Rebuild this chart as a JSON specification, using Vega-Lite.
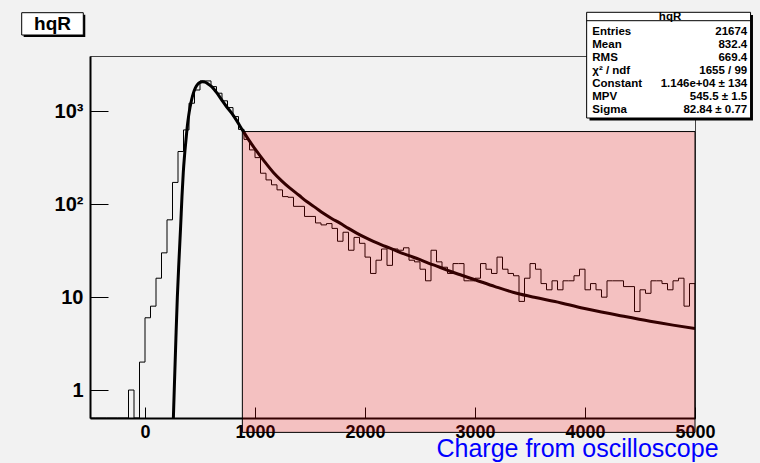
{
  "$schema": "https://vega.github.io/schema/vega-lite/v6.json",
  "width": 605,
  "height": 362,
  "autosize": "none",
  "padding": {"left": 90, "top": 56, "right": 65, "bottom": 45},
  "background": "#f2f2f2",
  "config": {
    "view": {"stroke": "#444444", "strokeWidth": 1, "fill": "#f2f2f2"},
    "font": "Liberation Sans"
  },
  "datasets": {
    "hist": [
      {"q": -500, "n": 0}, {"q": -450, "n": 0}, {"q": -400, "n": 0}, {"q": -350, "n": 0},
      {"q": -300, "n": 0}, {"q": -250, "n": 0}, {"q": -200, "n": 0}, {"q": -150, "n": 1},
      {"q": -100, "n": 0}, {"q": -50, "n": 2}, {"q": 0, "n": 6}, {"q": 50, "n": 8},
      {"q": 100, "n": 16}, {"q": 150, "n": 30}, {"q": 200, "n": 68}, {"q": 250, "n": 172},
      {"q": 300, "n": 370}, {"q": 350, "n": 632}, {"q": 400, "n": 1225}, {"q": 450, "n": 1700},
      {"q": 500, "n": 2130}, {"q": 550, "n": 2130}, {"q": 600, "n": 1850}, {"q": 650, "n": 1570},
      {"q": 700, "n": 1300}, {"q": 750, "n": 1100}, {"q": 800, "n": 880}, {"q": 850, "n": 640},
      {"q": 900, "n": 500}, {"q": 950, "n": 385}, {"q": 1000, "n": 318}, {"q": 1050, "n": 216},
      {"q": 1100, "n": 183}, {"q": 1150, "n": 162}, {"q": 1200, "n": 143}, {"q": 1250, "n": 121},
      {"q": 1300, "n": 119}, {"q": 1350, "n": 95}, {"q": 1400, "n": 95}, {"q": 1450, "n": 74},
      {"q": 1500, "n": 74}, {"q": 1550, "n": 63}, {"q": 1600, "n": 60}, {"q": 1650, "n": 62},
      {"q": 1700, "n": 55}, {"q": 1750, "n": 40}, {"q": 1800, "n": 50}, {"q": 1850, "n": 32},
      {"q": 1900, "n": 44}, {"q": 1950, "n": 38}, {"q": 2000, "n": 27}, {"q": 2050, "n": 18},
      {"q": 2100, "n": 25}, {"q": 2150, "n": 33}, {"q": 2200, "n": 22}, {"q": 2250, "n": 33},
      {"q": 2300, "n": 32}, {"q": 2350, "n": 34}, {"q": 2400, "n": 25}, {"q": 2450, "n": 24},
      {"q": 2500, "n": 20}, {"q": 2550, "n": 15}, {"q": 2600, "n": 32}, {"q": 2650, "n": 24},
      {"q": 2700, "n": 21}, {"q": 2750, "n": 18}, {"q": 2800, "n": 23}, {"q": 2850, "n": 23},
      {"q": 2900, "n": 15}, {"q": 2950, "n": 15}, {"q": 3000, "n": 16}, {"q": 3050, "n": 23},
      {"q": 3100, "n": 20}, {"q": 3150, "n": 18}, {"q": 3200, "n": 27}, {"q": 3250, "n": 20},
      {"q": 3300, "n": 18}, {"q": 3350, "n": 17}, {"q": 3400, "n": 9}, {"q": 3450, "n": 16},
      {"q": 3500, "n": 23}, {"q": 3550, "n": 20}, {"q": 3600, "n": 14}, {"q": 3650, "n": 12},
      {"q": 3700, "n": 15}, {"q": 3750, "n": 12}, {"q": 3800, "n": 15}, {"q": 3850, "n": 15},
      {"q": 3900, "n": 17}, {"q": 3950, "n": 20}, {"q": 4000, "n": 12}, {"q": 4050, "n": 14},
      {"q": 4100, "n": 12}, {"q": 4150, "n": 10}, {"q": 4200, "n": 15}, {"q": 4250, "n": 15},
      {"q": 4300, "n": 15}, {"q": 4350, "n": 13}, {"q": 4400, "n": 13}, {"q": 4450, "n": 7},
      {"q": 4500, "n": 12}, {"q": 4550, "n": 11}, {"q": 4600, "n": 15}, {"q": 4650, "n": 15},
      {"q": 4700, "n": 14}, {"q": 4750, "n": 12}, {"q": 4800, "n": 15}, {"q": 4850, "n": 16},
      {"q": 4900, "n": 8}, {"q": 4950, "n": 14}, {"q": 5000, "n": 0}
    ],
    "fit": [
      {"q": 258, "f": 0.5}, {"q": 267, "f": 1.1}, {"q": 281, "f": 3.6}, {"q": 294, "f": 10},
      {"q": 309, "f": 25}, {"q": 324, "f": 58}, {"q": 336, "f": 120}, {"q": 348, "f": 220},
      {"q": 360, "f": 340}, {"q": 373, "f": 500}, {"q": 385, "f": 700}, {"q": 397, "f": 900},
      {"q": 409, "f": 1100}, {"q": 424, "f": 1340}, {"q": 439, "f": 1565}, {"q": 457, "f": 1780},
      {"q": 476, "f": 1945}, {"q": 500, "f": 2060}, {"q": 524, "f": 2090}, {"q": 545, "f": 2070},
      {"q": 570, "f": 1990}, {"q": 606, "f": 1849}, {"q": 650, "f": 1600}, {"q": 697, "f": 1330},
      {"q": 740, "f": 1130}, {"q": 788, "f": 957}, {"q": 835, "f": 790}, {"q": 885, "f": 632},
      {"q": 940, "f": 500}, {"q": 1000, "f": 395}, {"q": 1080, "f": 295}, {"q": 1167, "f": 220},
      {"q": 1240, "f": 180}, {"q": 1318, "f": 149}, {"q": 1400, "f": 125}, {"q": 1470, "f": 107},
      {"q": 1550, "f": 92}, {"q": 1621, "f": 80}, {"q": 1700, "f": 70}, {"q": 1773, "f": 62.7},
      {"q": 1850, "f": 55}, {"q": 1924, "f": 49}, {"q": 2000, "f": 44}, {"q": 2076, "f": 39.8},
      {"q": 2150, "f": 36.5}, {"q": 2227, "f": 33.8}, {"q": 2300, "f": 31}, {"q": 2400, "f": 28},
      {"q": 2500, "f": 25.3}, {"q": 2576, "f": 23.3}, {"q": 2680, "f": 21}, {"q": 2773, "f": 19},
      {"q": 2879, "f": 17.2}, {"q": 3000, "f": 15.4}, {"q": 3182, "f": 13}, {"q": 3379, "f": 11},
      {"q": 3550, "f": 9.9}, {"q": 3727, "f": 9.0}, {"q": 3985, "f": 7.6}, {"q": 4300, "f": 6.4},
      {"q": 4591, "f": 5.5}, {"q": 4800, "f": 5.0}, {"q": 5000, "f": 4.6}
    ],
    "region": [{"lo": 885, "hi": 5000, "ylo": 0.35, "yhi": 607}],
    "stats": [
      {"k": "Entries", "v": "21674"},
      {"k": "Mean", "v": "832.4"},
      {"k": "RMS", "v": "669.4"},
      {"k": "χ² / ndf", "v": "1655 / 99"},
      {"k": "Constant", "v": "1.146e+04 ± 134"},
      {"k": "MPV", "v": "545.5 ± 1.5"},
      {"k": "Sigma", "v": "82.84 ± 0.77"}
    ]
  },
  "layer": [
    {
      "layer": [
        {
          "data": {"name": "hist"},
          "mark": {"type": "line", "interpolate": "step-after", "color": "#000000", "strokeWidth": 1, "clip": true},
          "encoding": {
            "x": {
              "field": "q", "type": "quantitative",
              "scale": {"domain": [-500, 5000], "nice": false, "zero": false},
              "axis": {
                "orient": "bottom",
                "values": [0, 1000, 2000, 3000, 4000, 5000],
                "format": "d",
                "tickSize": -11, "tickColor": "#000000", "tickWidth": 1,
                "domain": true, "domainColor": "#000000", "domainWidth": 2,
                "grid": false,
                "labelFont": "Liberation Sans", "labelFontWeight": "bold", "labelFontSize": 18,
                "labelColor": "#000000", "labelPadding": 16, "labelFlush": false, "labelOverlap": false,
                "title": "Charge from oscilloscope",
                "titleFont": "Liberation Sans", "titleFontSize": 25, "titleFontWeight": "normal",
                "titleColor": "#0000ff", "titleAnchor": "middle", "titleAlign": "center",
                "titleBaseline": "alphabetic", "titleX": 487, "titleY": 38
              }
            },
            "y": {
              "field": "n", "type": "quantitative",
              "scale": {"type": "log", "domain": [0.5, 3950], "nice": false, "clamp": true},
              "axis": {
                "orient": "left",
                "values": [1, 10, 100, 1000],
                "tickSize": -18, "tickColor": "#000000", "tickWidth": 1,
                "domain": true, "domainColor": "#000000", "domainWidth": 2,
                "grid": false,
                "labelExpr": "datum.value >= 1000 ? '10³' : datum.value >= 100 ? '10²' : datum.value >= 10 ? '10' : '1'",
                "labelFont": "Liberation Sans", "labelFontWeight": "bold", "labelFontSize": 20,
                "labelColor": "#000000", "labelPadding": 25, "labelOverlap": false,
                "title": null
              }
            }
          }
        },
        {
          "layer": [
            {
              "data": {"name": "fit"},
              "mark": {"type": "line", "interpolate": "monotone", "color": "#000000", "strokeWidth": 3, "clip": true},
              "encoding": {
                "x": {
                  "field": "q", "type": "quantitative",
                  "axis": {
                    "orient": "bottom",
                    "values": [-400, -200, 200, 400, 600, 800, 1200, 1400, 1600, 1800, 2200, 2400, 2600, 2800, 3200, 3400, 3600, 3800, 4200, 4400, 4600, 4800],
                    "tickSize": -5.5, "tickColor": "#000000", "tickWidth": 1,
                    "domain": false, "labels": false, "grid": false, "title": null
                  }
                },
                "y": {
                  "field": "f", "type": "quantitative",
                  "scale": {"type": "log", "domain": [0.5, 3950], "nice": false},
                  "axis": {
                    "orient": "left",
                    "values": [0.6, 0.7, 0.8, 0.9, 2, 3, 4, 5, 6, 7, 8, 9, 20, 30, 40, 50, 60, 70, 80, 90, 200, 300, 400, 500, 600, 700, 800, 900, 2000, 3000],
                    "tickSize": -9, "tickColor": "#000000", "tickWidth": 1,
                    "domain": false, "labels": false, "grid": false, "title": null
                  }
                }
              }
            },
            {
              "data": {"name": "region"},
              "mark": {"type": "rect", "fill": "#ff0000", "fillOpacity": 0.2, "stroke": "#000000", "strokeWidth": 1, "clip": false},
              "encoding": {
                "x": {"field": "lo", "type": "quantitative", "axis": null},
                "x2": {"field": "hi"},
                "y": {"field": "yhi", "type": "quantitative", "axis": null},
                "y2": {"field": "ylo"}
              }
            },
            {
              "data": {"values": [{}]},
              "mark": {"type": "rect", "fill": "#000000", "clip": false},
              "encoding": {
                "x": {"datum": -1103, "axis": null}, "x2": {"datum": -543},
                "y": {"datum": 11000, "axis": null}, "y2": {"datum": 6327}
              }
            },
            {
              "data": {"values": [{}]},
              "mark": {"type": "rect", "fill": "#ffffff", "stroke": "#000000", "strokeWidth": 1, "clip": false},
              "encoding": {
                "x": {"datum": -1121, "axis": null}, "x2": {"datum": -561},
                "y": {"datum": 11556, "axis": null}, "y2": {"datum": 6648}
              }
            },
            {
              "data": {"values": [{}]},
              "mark": {"type": "text", "text": "hqR", "font": "Liberation Sans", "fontWeight": "bold", "fontSize": 19, "align": "center", "baseline": "alphabetic", "color": "#000000", "clip": false},
              "encoding": {
                "x": {"datum": -841, "axis": null},
                "y": {"datum": 7523, "axis": null}
              }
            },
            {
              "data": {"values": [{}]},
              "mark": {"type": "rect", "fill": "#000000", "clip": false},
              "encoding": {
                "x": {"datum": 4041, "axis": null}, "x2": {"datum": 5527},
                "y": {"datum": 10914, "axis": null}, "y2": {"datum": 798}
              }
            },
            {
              "data": {"values": [{}]},
              "mark": {"type": "rect", "fill": "#ffffff", "stroke": "#000000", "strokeWidth": 1, "clip": false},
              "encoding": {
                "x": {"datum": 4015, "axis": null}, "x2": {"datum": 5505},
                "y": {"datum": 11672, "axis": null}, "y2": {"datum": 849}
              }
            },
            {
              "data": {"values": [{}]},
              "mark": {"type": "rule", "color": "#000000", "strokeWidth": 1, "clip": false},
              "encoding": {
                "x": {"datum": 4015, "axis": null}, "x2": {"datum": 5505},
                "y": {"datum": 9478, "axis": null}
              }
            },
            {
              "data": {"values": [{}]},
              "mark": {"type": "text", "text": "hqR", "font": "Liberation Sans", "fontWeight": "bold", "fontSize": 11.5, "align": "center", "baseline": "middle", "color": "#000000", "clip": false},
              "encoding": {
                "x": {"datum": 4773, "axis": null},
                "y": {"datum": 10388, "axis": null}
              }
            }
          ]
        }
      ],
      "resolve": {"scale": {"y": "independent"}, "axis": {"x": "independent", "y": "independent"}}
    },
    {
      "data": {"name": "stats"},
      "encoding": {
        "y": {"field": "k", "type": "ordinal", "sort": null, "axis": null,
              "scale": {"type": "point", "range": [-24, 54], "padding": 0}}
      },
      "layer": [
        {
          "mark": {"type": "text", "align": "left", "baseline": "middle", "font": "Liberation Sans", "fontWeight": "bold", "fontSize": 11.5, "color": "#000000", "clip": false},
          "encoding": {"x": {"datum": 4066, "axis": null}, "text": {"field": "k"}}
        },
        {
          "mark": {"type": "text", "align": "right", "baseline": "middle", "font": "Liberation Sans", "fontWeight": "bold", "fontSize": 11.5, "color": "#000000", "clip": false},
          "encoding": {"x": {"datum": 5475, "axis": null}, "text": {"field": "v"}}
        }
      ]
    }
  ],
  "resolve": {"scale": {"y": "independent"}}
}
